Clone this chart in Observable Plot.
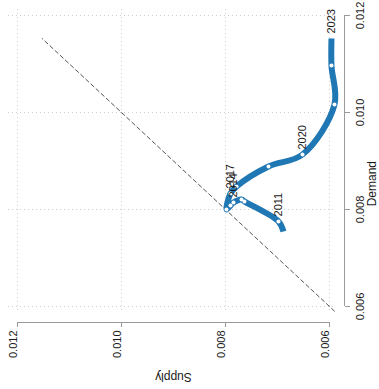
<!DOCTYPE html>
<html>
<head>
<meta charset="utf-8">
<script src="https://cdn.jsdelivr.net/npm/d3@7"></script>
<script src="https://cdn.jsdelivr.net/npm/@observablehq/plot@0.6"></script>
<style>
  html, body { margin: 0; padding: 0; background: #fff; }
</style>
</head>
<body>
<div id="chart"></div>
<script>
// Yearly supply / demand trajectory
const years  = [2010, 2011, 2012, 2013, 2014, 2015, 2016, 2017, 2018, 2019, 2020, 2021, 2022, 2023];
const supply = [0.006885, 0.006981, 0.007635, 0.007692, 0.007846, 0.007904, 0.007981, 0.007904, 0.007788, 0.007173, 0.006519, 0.005904, 0.005962, 0.005962];
const demand = [0.007546, 0.007753, 0.008165, 0.008206, 0.008144, 0.008082, 0.008000, 0.008330, 0.008474, 0.008887, 0.009134, 0.010165, 0.010969, 0.011526];
const labelYears = [2011, 2014, 2017, 2020, 2023];

// Axis ticks
const supplyTicks = [0.012, 0.010, 0.008, 0.006];
const demandTicks = [0.006, 0.008, 0.010, 0.012];

// Scale extents (supply runs right-to-left)
const xDomain = [0.012173, 0.005923];
const yDomain = [0.005876, 0.012124];

const rows = years.map((year, i) => ({year, supply: supply[i], demand: demand[i]}));
const diagonal = d3.extent(supply.concat(demand)).map(v => ({v}));
const fmt = d3.format(".3f");
const axisGray = "#9a9a9a";
const gridGray = "#cfcfcf";
const ink = "#1a1a1a";
const blue = "#1f77b4";

const chart = Plot.plot({
  width: 379,
  height: 389,
  marginLeft: 8,
  marginRight: 46,
  marginTop: 9,
  marginBottom: 77,
  style: {fontFamily: "'Liberation Sans', Arial, sans-serif", fontSize: "11px", background: "#fff", color: ink},
  x: {domain: xDomain, axis: null},
  y: {domain: yDomain, axis: null},
  marks: [
    // dotted grid
    Plot.gridX(supplyTicks, {stroke: gridGray, strokeOpacity: 1, strokeDasharray: "1,3"}),
    Plot.gridY(demandTicks, {stroke: gridGray, strokeOpacity: 1, strokeDasharray: "1,3"}),

    // 45-degree reference line
    Plot.line(diagonal, {x: "v", y: "v", stroke: "#555", strokeWidth: 1, strokeDasharray: "4,3"}),

    // trajectory
    Plot.line(rows, {x: "supply", y: "demand", curve: "catmull-rom", stroke: blue, strokeWidth: 6, strokeLinecap: "butt"}),
    Plot.dot(rows.slice(1, -1), {x: "supply", y: "demand", r: 2, fill: "white", stroke: null}),
    Plot.text(rows.filter(d => labelYears.includes(d.year)), {
      x: "supply", y: "demand", text: d => String(d.year),
      rotate: -90, textAnchor: "start", dy: -5, fill: ink
    }),

    // bottom axis (Supply)
    Plot.ruleY([yDomain[0]], {x1: d3.max(supplyTicks), x2: d3.min(supplyTicks), dy: 10, stroke: axisGray}),
    Plot.axisX(supplyTicks, {anchor: "bottom", tickSize: 5, dy: 10, fill: null, stroke: axisGray, label: null}),
    Plot.text(supplyTicks, {x: d => d, frameAnchor: "bottom", text: fmt, rotate: -90, textAnchor: "end", dy: 18, fill: ink}),
    Plot.text(["Supply"], {x: () => d3.mean(supplyTicks), frameAnchor: "bottom", rotate: 180, dy: 60, fontSize: 12, fill: ink}),

    // right axis (Demand)
    Plot.ruleX([xDomain[1]], {y1: d3.min(demandTicks), y2: d3.max(demandTicks), dx: 11, stroke: axisGray}),
    Plot.axisY(demandTicks, {anchor: "right", tickSize: 5, dx: 11, fill: null, stroke: axisGray, label: null}),
    Plot.text(demandTicks, {y: d => d, frameAnchor: "right", text: fmt, rotate: -90, textAnchor: "middle", dx: 27, fill: ink}),
    Plot.text(["Demand"], {y: () => d3.mean(demandTicks), frameAnchor: "right", rotate: -90, dx: 39, fontSize: 12, fill: ink})
  ]
});

document.getElementById("chart").appendChild(chart);
</script>
</body>
</html>
